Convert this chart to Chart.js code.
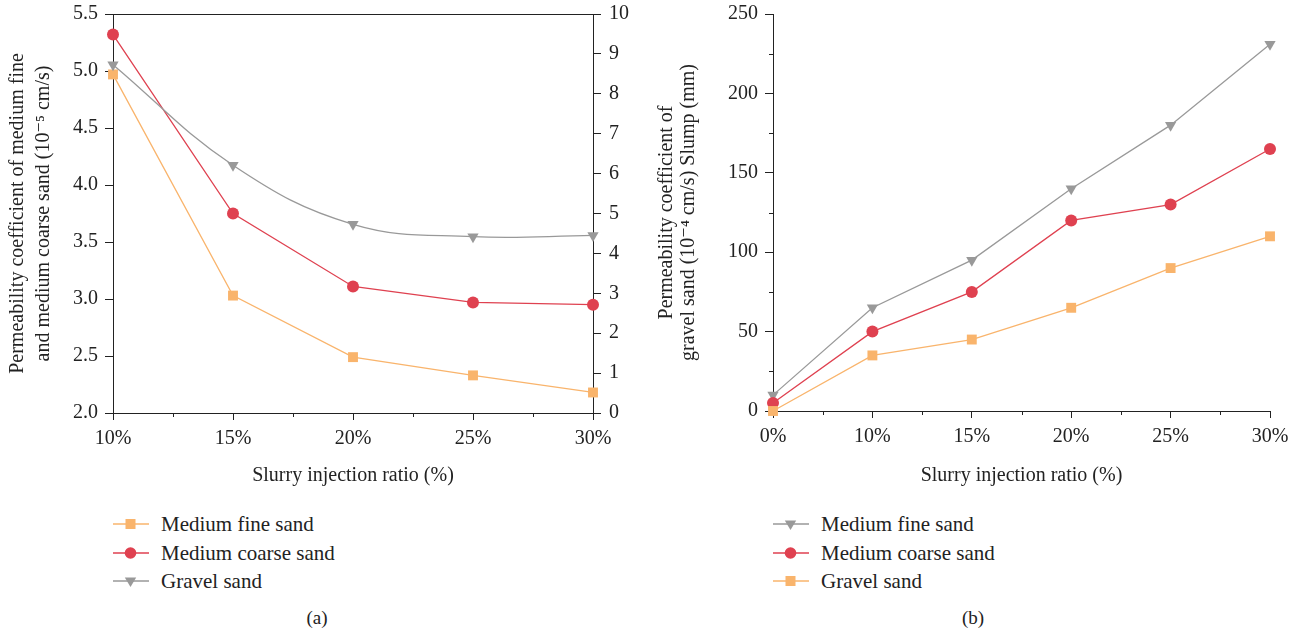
<!DOCTYPE html>
<html>
<head>
<meta charset="utf-8">
<script src="https://cdn.jsdelivr.net/npm/chart.js@4.4.1/dist/chart.umd.min.js"></script>
<style>
  body { margin: 0; background: #fff; width: 1301px; height: 638px; position: relative; overflow: hidden;
         font-family: "Liberation Serif", "DejaVu Serif", serif; color: #222; }
  #boxA { position: absolute; left: 0; top: 0; }
  #boxB { position: absolute; left: 650px; top: 0; }
  .legend { position: absolute; font-size: 21px; }
  .legend div { height: 28.5px; line-height: 28.5px; white-space: nowrap; }
  .legend svg { vertical-align: middle; margin-right: 12px; position: relative; top: -2px; }
  .cap { position: absolute; top: 607px; font-size: 19px; width: 60px; text-align: center; }
</style>
</head>
<body>
<canvas id="boxA" width="640" height="500"></canvas>
<canvas id="boxB" width="651" height="500"></canvas>
<div class="legend" id="legA" style="left:113px; top:510px;"></div>
<div class="legend" id="legB" style="left:773px; top:510px;"></div>
<div class="cap" style="left:287px;">(a)</div>
<div class="cap" style="left:943px;">(b)</div>
<script>
// (a) permeability vs slurry injection ratio
var ratioA = ['10%', '15%', '20%', '25%', '30%'];
var fineA = [4.97, 3.03, 2.49, 2.33, 2.18];      // 10^-5 cm/s, left axis
var coarseA = [5.32, 3.75, 3.11, 2.97, 2.95];    // 10^-5 cm/s, left axis
var gravelA = [8.73, 6.21, 4.73, 4.42, 4.45];    // 10^-4 cm/s, right axis

// (b) slump vs slurry injection ratio
var ratioB = ['0%', '10%', '15%', '20%', '25%', '30%'];
var fineB = [10, 65, 95, 140, 180, 231];
var coarseB = [5, 50, 75, 120, 130, 165];
var gravelB = [0, 35, 45, 65, 90, 110];

var ORANGE = '#F9B46C';
var RED = '#DF4150';
var GRAY = '#999999';
var INK = '#222222';
var FONT = '"Liberation Serif", "DejaVu Serif", serif';

// frame top line + minor ticks, drawn through the chart scales
var axisExtras = {
    id: 'axisExtras',
    afterDraw: function (chart, args, opts) {
        var ctx = chart.ctx, a = chart.chartArea;
        ctx.save();
        ctx.strokeStyle = INK;
        ctx.lineWidth = 1;
        ctx.beginPath();
        if (opts.topLine) {
            var ty = Math.round(a.top) + 0.5;
            ctx.moveTo(a.left, ty);
            ctx.lineTo(a.right, ty);
        }
        var x = chart.scales.x;
        for (var i = 0; i < x.ticks.length - 1; i++) {
            var px = Math.round(x.getPixelForValue(i + 0.5)) + 0.5;
            ctx.moveTo(px, a.bottom);
            ctx.lineTo(px, a.bottom + 4);
        }
        if (opts.yMinor) {
            var y = chart.scales.y;
            for (var v = y.min + opts.yMinor / 2; v < y.max; v += opts.yMinor) {
                var py = Math.round(y.getPixelForValue(v)) + 0.5;
                ctx.moveTo(a.left - 4, py);
                ctx.lineTo(a.left, py);
            }
        }
        ctx.stroke();
        ctx.restore();
    }
};

function lineSet(label, data, color, style, opts) {
    var ds = {
        label: label,
        data: data,
        borderColor: color,
        backgroundColor: color,
        borderWidth: 1.3,
        pointStyle: style,
        pointRadius: style === 'rect' ? 7 : (style === 'triangle' ? 6.5 : 6),
        pointRotation: style === 'triangle' ? 180 : 0,
        pointBorderWidth: 0,
        tension: 0,
        clip: false
    };
    return Object.assign(ds, opts || {});
}

function axisBase() {
    return {
        grid: { drawOnChartArea: false, drawTicks: true, tickLength: 8, color: INK },
        border: { display: true, color: INK, width: 1 },
        ticks: { color: INK, font: { family: FONT, size: 20 } }
    };
}

// fixed width for a vertical axis, and no extra room for its end labels
function fixWidth(w) {
    return function (s) { s.width = w; s.paddingTop = 0; s.paddingBottom = 0; };
}

Chart.defaults.font.family = FONT;
Chart.defaults.color = INK;

// chart (a)
var xA = axisBase();
xA.grid.tickLength = 7;
xA.ticks.padding = 7;
xA.title = { display: true, text: 'Slurry injection ratio (%)', font: { family: FONT, size: 20 }, color: INK, padding: { top: 0, bottom: 12 } };
xA.afterFit = function (s) { s.height = 87; };

var yA = axisBase();
yA.position = 'left';
yA.min = 2; yA.max = 5.5;
yA.ticks.stepSize = 0.5;
yA.ticks.padding = 7;
yA.ticks.callback = function (v) { return v.toFixed(1); };
yA.title = { display: true, text: ['Permeability coefficient of medium fine', 'and medium coarse sand (10\u207B\u2075 cm/s)'],
    font: { family: FONT, size: 20, lineHeight: 1.3 }, color: INK, padding: { top: 5, bottom: 0 } };
yA.afterFit = fixWidth(113);

var y2A = axisBase();
y2A.position = 'right';
y2A.min = 0; y2A.max = 10;
y2A.ticks.stepSize = 1;
y2A.ticks.padding = 8;
y2A.afterFit = fixWidth(47);

new Chart(document.getElementById('boxA'), {
    type: 'line',
    data: {
        labels: ratioA,
        datasets: [
            lineSet('Gravel sand', gravelA, GRAY, 'triangle', { yAxisID: 'y2', tension: 0.4 }),
            lineSet('Medium fine sand', fineA, ORANGE, 'rect', { yAxisID: 'y' }),
            lineSet('Medium coarse sand', coarseA, RED, 'circle', { yAxisID: 'y' })
        ]
    },
    options: {
        responsive: false,
        animation: false,
        layout: { padding: { top: 14, left: 0, right: 0, bottom: 0 } },
        scales: { x: xA, y: yA, y2: y2A },
        plugins: { legend: { display: false }, tooltip: { enabled: false }, axisExtras: { topLine: true } }
    },
    plugins: [axisExtras]
});

// chart (b)
var xB = axisBase();
xB.grid.tickLength = 7;
xB.ticks.padding = 7;
xB.title = { display: true, text: 'Slurry injection ratio (%)', font: { family: FONT, size: 20 }, color: INK, padding: { top: 0, bottom: 12 } };
xB.afterFit = function (s) { s.height = 89; };

var yB = axisBase();
yB.min = 0; yB.max = 250;
yB.ticks.stepSize = 50;
yB.ticks.padding = 7;
yB.title = { display: true, text: ['Permeability coefficient of', 'gravel sand (10\u207B\u2074 cm/s) Slump (mm)'],
    font: { family: FONT, size: 20, lineHeight: 1.1 }, color: INK, padding: { top: 6, bottom: 0 } };
yB.afterFit = fixWidth(123);

new Chart(document.getElementById('boxB'), {
    type: 'line',
    data: {
        labels: ratioB,
        datasets: [
            lineSet('Gravel sand', gravelB, ORANGE, 'rect'),
            lineSet('Medium coarse sand', coarseB, RED, 'circle'),
            lineSet('Medium fine sand', fineB, GRAY, 'triangle')
        ]
    },
    options: {
        responsive: false,
        animation: false,
        layout: { padding: { top: 14, left: 0, right: 31, bottom: 0 } },
        scales: { x: xB, y: yB },
        plugins: { legend: { display: false }, tooltip: { enabled: false }, axisExtras: { yMinor: 50 } }
    },
    plugins: [axisExtras]
});

// legends below each chart
function marker(color, style) {
    var shape;
    if (style === 'rect') shape = '<rect x="12.5" y="5" width="10" height="10" fill="' + color + '"/>';
    else if (style === 'circle') shape = '<circle cx="17.5" cy="10" r="5.8" fill="' + color + '"/>';
    else shape = '<polygon points="11.8,6.5 23.2,6.5 17.5,16" fill="' + color + '"/>';
    return '<svg width="36" height="20"><line x1="0" y1="10" x2="36" y2="10" stroke="' + color + '" stroke-width="1.3"/>' + shape + '</svg>';
}
function legend(id, items) {
    document.getElementById(id).innerHTML = items.map(function (it) {
        return '<div>' + marker(it[1], it[2]) + it[0] + '</div>';
    }).join('');
}
legend('legA', [['Medium fine sand', ORANGE, 'rect'], ['Medium coarse sand', RED, 'circle'], ['Gravel sand', GRAY, 'tri']]);
legend('legB', [['Medium fine sand', GRAY, 'tri'], ['Medium coarse sand', RED, 'circle'], ['Gravel sand', ORANGE, 'rect']]);
</script>
</body>
</html>
